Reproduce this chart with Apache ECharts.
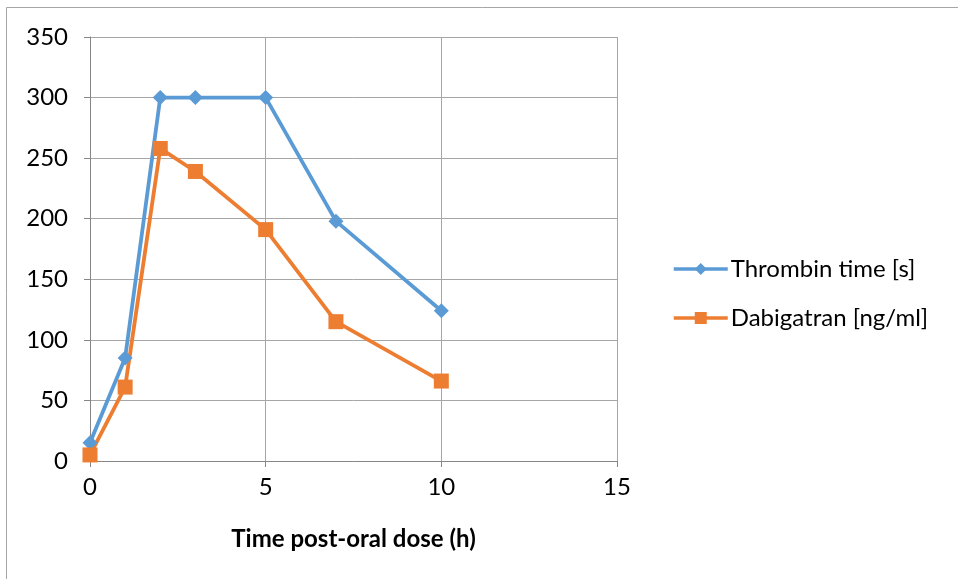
<!DOCTYPE html>
<html><head><meta charset="utf-8">
<script src="https://cdn.jsdelivr.net/npm/echarts@6/dist/echarts.min.js"></script>
<style>html,body{margin:0;padding:0;background:#fff}#c{width:958px;height:579px}</style>
</head><body><div id="c"></div>
<script>
const hours = [0, 1, 2, 3, 5, 7, 10];
const thrombin = [15, 85, 300, 300, 300, 198, 124];
const dabigatran = [5, 61, 258, 239, 191, 115, 66];
const seriesNames = ['Thrombin time [s]', 'Dabigatran [ng/ml]'];
const xTitle = 'Time post-oral dose (h)';

const font = 'Lato, "Open Sans", sans-serif';
const chart = echarts.init(document.getElementById('c'));
chart.setOption({
  animation: false,
  textStyle: {fontFamily: font},
  graphic: [{type: 'rect', shape: {x: 6.5, y: 7.5, width: 1000, height: 1000}, style: {fill: 'none', stroke: '#a6a6a6', lineWidth: 1}}],
  grid: {left: 90, right: 341, top: 37, bottom: 118},
  legend: {
    orient: 'vertical', left: 672, top: 257, padding: 0, itemGap: 25, itemWidth: 54, itemHeight: 15,
    lineStyle: {width: 3.5},
    textStyle: {fontSize: 24, color: '#000', fontFamily: font, padding: [0, 0, 0, -2]},
    data: seriesNames
  },
  xAxis: {
    type: 'value', min: 0, max: 15, interval: 5,
    name: xTitle, nameLocation: 'middle', nameGap: 66,
    nameTextStyle: {fontSize: 24, fontWeight: 'bold', color: '#000', fontFamily: font},
    axisLine: {onZero: false, lineStyle: {color: '#868686'}},
    axisTick: {show: true, length: 6, lineStyle: {color: '#868686'}},
    axisLabel: {fontSize: 24, color: '#000', margin: 14},
    splitLine: {show: true, lineStyle: {color: '#a6a6a6'}}
  },
  yAxis: {
    type: 'value', min: 0, max: 350, interval: 50,
    axisLine: {show: true, lineStyle: {color: '#868686'}},
    axisTick: {show: true, length: 6, lineStyle: {color: '#868686'}},
    axisLabel: {fontSize: 24, color: '#000', margin: 22},
    splitLine: {show: true, lineStyle: {color: '#a6a6a6'}}
  },
  series: [
    {name: seriesNames[0], type: 'line', data: hours.map((h, i) => [h, thrombin[i]]),
     symbol: 'diamond', symbolSize: 15, color: '#5b9bd5', lineStyle: {width: 3.8}},
    {name: seriesNames[1], type: 'line', data: hours.map((h, i) => [h, dabigatran[i]]),
     symbol: 'rect', symbolSize: 15, color: '#ed7d31', lineStyle: {width: 3.8}}
  ]
});
</script></body></html>
